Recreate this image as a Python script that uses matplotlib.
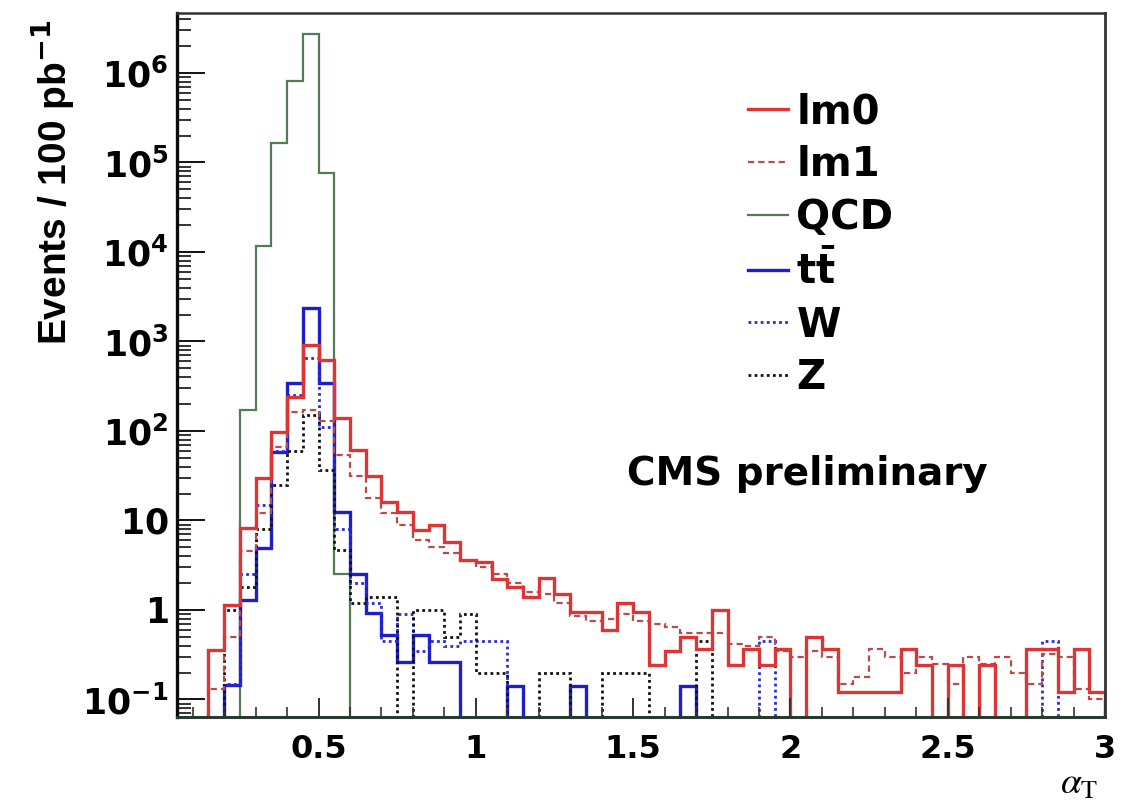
import numpy as np
import matplotlib
matplotlib.use("Agg")
import matplotlib.pyplot as plt
from matplotlib.lines import Line2D
from matplotlib.ticker import FixedLocator, NullFormatter

# ---------------- data (events per 0.05 bin of alpha_T) ----------------
bin_low = 0.05
bin_width = 0.05
n_bins = 59
alpha_t_edges = np.round(bin_low + bin_width * np.arange(n_bins + 1), 3)

lm0 = [0, 0, 0.36, 1.14, 8.3, 30, 97, 240, 910, 620,
       140, 61, 31, 16, 12.4, 7.8, 8.9, 5.8, 3.6, 3.4,
       2.2, 1.8, 1.4, 2.3, 1.5, 0.95, 0.95, 0.6, 1.2, 0.95,
       0.24, 0.35, 0.5, 0.37, 1.0, 0.24, 0.37, 0.24, 0.37, 0,
       0.5, 0.37, 0.12, 0.12, 0.12, 0.12, 0.37, 0.24, 0, 0.24,
       0, 0.24, 0, 0, 0.37, 0.37, 0.12, 0.37, 0.12]

lm1 = [0, 0, 0.13, 0.5, 4.5, 12, 66, 163, 170, 130,
       54, 31, 18, 12, 8.9, 6.0, 5.0, 4.3, 3.5, 3.0,
       2.5, 2.0, 1.6, 1.5, 1.2, 0.85, 0.75, 0.8, 0.9, 0.75,
       0.7, 0.65, 0.55, 0.55, 0.55, 0.42, 0.4, 0.5, 0.35, 0.3,
       0.35, 0.3, 0.15, 0.18, 0.37, 0.3, 0.2, 0.3, 0.25, 0.15,
       0.3, 0.25, 0.3, 0.2, 0.15, 0.32, 0.3, 0.13, 0.1]

qcd = [0, 0, 0, 0, 170, 11700, 1.65e5, 8.1e5, 2.7e6, 7.6e4,
       2.5, 0, 0, 0, 0, 0, 0, 0, 0, 0,
       0, 0, 0, 0, 0, 0, 0, 0, 0, 0,
       0, 0, 0, 0, 0, 0, 0, 0, 0, 0,
       0, 0, 0, 0, 0, 0, 0, 0, 0, 0,
       0, 0, 0, 0, 0, 0, 0, 0, 0]

ttbar = [0, 0, 0, 0.145, 1.3, 4.9, 58, 340, 2350, 340,
         12.4, 2.5, 0.93, 0.53, 0.26, 0.53, 0.26, 0.26, 0, 0,
         0, 0.14, 0, 0, 0, 0.14, 0, 0, 0, 0,
         0, 0, 0.14, 0, 0, 0, 0, 0, 0, 0,
         0, 0, 0, 0, 0, 0, 0, 0, 0, 0,
         0, 0, 0, 0, 0, 0, 0, 0, 0]

wjets = [0, 0, 0, 0.15, 2.5, 15, 60, 250, 650, 110,
         8, 2.0, 1.2, 0.45, 0.9, 0.35, 0.45, 0.4, 0.45, 0.45,
         0.45, 0, 0, 0, 0, 0, 0, 0, 0, 0,
         0, 0, 0, 0, 0, 0, 0, 0.45, 0, 0,
         0, 0, 0, 0, 0, 0, 0, 0, 0, 0,
         0, 0, 0, 0, 0, 0.45, 0, 0, 0]

zjets = [0, 0, 0, 1.0, 1.8, 8, 25, 60, 150, 37,
         4.7, 1.2, 1.4, 1.4, 0, 1.0, 1.0, 0.5, 0.9, 0.2,
         0.2, 0, 0, 0.2, 0.2, 0, 0, 0.2, 0.2, 0.2,
         0, 0, 0, 0.45, 0, 0, 0, 0, 0, 0,
         0, 0, 0, 0, 0, 0, 0, 0, 0, 0,
         0, 0, 0, 0, 0, 0, 0, 0, 0]

legend_labels = ["lm0", "lm1", "QCD", r"$\mathbf{t\bar{t}}$", "W", "Z"]
x_tick_values = [0.5, 1, 1.5, 2, 2.5, 3]
x_tick_labels = ["0.5", "1", "1.5", "2", "2.5", "3"]
y_tick_values = [1e-1, 1, 10, 1e2, 1e3, 1e4, 1e5, 1e6]
y_tick_labels = [r"$\mathbf{10^{-1}}$", r"$\mathbf{1}$", r"$\mathbf{10}$",
                 r"$\mathbf{10^{2}}$", r"$\mathbf{10^{3}}$", r"$\mathbf{10^{4}}$",
                 r"$\mathbf{10^{5}}$", r"$\mathbf{10^{6}}$"]

# ---------------- styles ----------------
c_lm0 = "#dd3535"
c_lm1 = "#b84c4c"
c_qcd = "#557a57"
c_tt = "#1e1ecc"
c_w = "#2a2ad8"
c_z = "#111111"

styles = {
    "lm0": dict(color=c_lm0, lw=2.4, ls="-"),
    "lm1": dict(color=c_lm1, lw=1.6, ls=(0, (2.8, 1.8))),
    "QCD": dict(color=c_qcd, lw=1.6, ls="-"),
    "tt": dict(color=c_tt, lw=2.4, ls="-"),
    "W": dict(color=c_w, lw=2.0, ls=(0, (1, 1.2))),
    "Z": dict(color=c_z, lw=2.0, ls=(0, (1, 1.2))),
}

W_PX, H_PX = 1135, 808
fig = plt.figure(figsize=(W_PX / 100, H_PX / 100), dpi=100)
fig.patch.set_facecolor("white")

ax_l, ax_r, ax_t, ax_b = 177, 1105, 13, 717
ax = fig.add_axes([ax_l / W_PX, 1 - ax_b / H_PX, (ax_r - ax_l) / W_PX, (ax_b - ax_t) / H_PX])
ax.set_yscale("log", nonpositive="clip")

series = [("QCD", qcd), ("tt", ttbar), ("W", wjets), ("Z", zjets), ("lm1", lm1), ("lm0", lm0)]
for name, vals in series:
    st = styles[name]
    ax.stairs(np.asarray(vals, dtype=float), alpha_t_edges, baseline=1e-6, fill=False,
              color=st["color"], linewidth=st["lw"], linestyle=st["ls"])

ax.set_xlim(alpha_t_edges[0], alpha_t_edges[-1])
ax.set_ylim(10 ** -1.196, 10 ** 6.67)

# ticks
ax.xaxis.set_major_locator(FixedLocator(x_tick_values))
ax.set_xticklabels(x_tick_labels)
ax.xaxis.set_minor_locator(FixedLocator(np.round(np.arange(0.1, 3.0, 0.1), 2)))
ax.yaxis.set_major_locator(FixedLocator(y_tick_values))
ax.set_yticklabels(y_tick_labels)
minor_y = [m * 10.0 ** e for e in range(-2, 7) for m in range(2, 10)]
ax.yaxis.set_minor_locator(FixedLocator(minor_y))
ax.yaxis.set_minor_formatter(NullFormatter())

ax.tick_params(axis="x", which="major", direction="in", length=14, width=1.4, pad=12,
               labelsize=23, top=False, color="#333333")
ax.tick_params(axis="x", which="minor", direction="in", length=7, width=1.2, top=False, color="#333333")
ax.tick_params(axis="y", which="major", direction="in", length=20, width=1.4, pad=6,
               labelsize=25, right=False, color="#111111")
ax.tick_params(axis="y", which="minor", direction="in", length=10, width=1.2, right=False, color="#111111")
for lab in ax.get_xticklabels():
    lab.set_fontweight("bold")
    lab.set_family("DejaVu Sans")

ax.spines["left"].set_linewidth(2.4)
ax.spines["left"].set_color("#0a0a0a")
ax.spines["bottom"].set_linewidth(2.2)
ax.spines["bottom"].set_color("#2b3a2e")
ax.spines["top"].set_linewidth(1.8)
ax.spines["top"].set_color("#333333")
ax.spines["right"].set_linewidth(2.0)
ax.spines["right"].set_color("#333333")

# legend
handles = []
for name in ["lm0", "lm1", "QCD", "tt", "W", "Z"]:
    st = styles[name]
    handles.append(Line2D([], [], color=st["color"], lw=st["lw"], ls=st["ls"]))
leg = ax.legend(handles, legend_labels, loc="upper left",
                bbox_to_anchor=(748 / W_PX, 1 - 92 / H_PX), bbox_transform=fig.transFigure,
                frameon=False, borderpad=0, borderaxespad=0, handlelength=1.0,
                handletextpad=0.2, labelspacing=0.32,
                prop=dict(family="DejaVu Sans", weight="bold", size=29))

fig.text(627 / W_PX, 1 - 485 / H_PX, "CMS preliminary", fontsize=28, fontweight="bold",
         family="DejaVu Sans", ha="left", va="baseline")

fig.text(53 / W_PX, 1 - 20 / H_PX, r"Events / 100 pb$^{\mathbf{-1}}$", rotation=90,
         ha="center", va="top", fontsize=28, fontweight="bold", family="Liberation Sans")

fig.text(1098 / W_PX, 1 - 802 / H_PX, r"$\alpha_{\mathrm{T}}$", ha="right", va="bottom",
         fontsize=27, math_fontfamily="stix")

fig.savefig("out.png", dpi=100, facecolor="white")
